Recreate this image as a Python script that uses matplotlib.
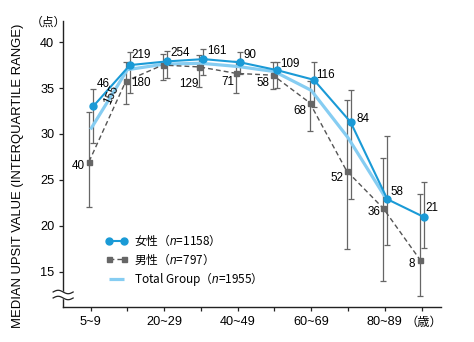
import numpy as np
import matplotlib
matplotlib.use("Agg")
import matplotlib.pyplot as plt

plt.rcParams['font.family'] = ['Liberation Sans', 'Noto Sans CJK JP', 'DejaVu Sans']
plt.rcParams['mathtext.fontset'] = 'custom'
plt.rcParams['mathtext.it'] = 'Liberation Sans:italic'
plt.rcParams['mathtext.rm'] = 'Liberation Sans'

# ---- data ----
categories = ['5~9', '10~19', '20~29', '30~39', '40~49', '50~59', '60~69', '70~79', '80~89', '90~']
tick_labels = ['5~9', '', '20~29', '', '40~49', '', '60~69', '', '80~89', '']

female_median = [33.0, 37.5, 37.9, 38.15, 37.8, 36.95, 35.9, 31.3, 22.9, 20.95]
female_q1 = [29.05, 34.5, 36.1, 36.4, 36.5, 35.0, 32.9, 22.9, 17.9, 17.55]
female_q3 = [34.85, 38.9, 39.0, 39.2, 38.9, 37.8, 37.8, 34.8, 29.8, 24.8]
female_n = [46, 219, 254, 161, 90, 109, 116, 84, 58, 21]

male_median = [27.0, 35.75, 37.5, 37.3, 36.6, 36.4, 33.4, 26.0, 21.9, 16.3]
male_q1 = [22.1, 33.3, 35.9, 35.1, 34.5, 34.9, 30.3, 17.5, 14.0, 12.4]
male_q3 = [32.4, 37.8, 38.7, 38.6, 37.9, 37.8, 35.8, 33.7, 27.4, 23.45]
male_n = [40, 155, 180, 129, 71, 58, 68, 52, 36, 8]

total_median = [30.5, 37.0, 37.6, 37.7, 37.35, 36.8, 34.75, 29.6, 23.2]

# ---- style ----
C_F = '#1a9ad6'
C_T = '#86cdf2'
C_M = '#555555'
C_E = '#666666'
FS_TICK = 9.2
FS_N = 8.4

fig = plt.figure(figsize=(4.74, 3.42), dpi=100)
ax = fig.add_axes([0.1336, 0.1032, 0.7961, 0.8354])

x = np.arange(len(categories))
xf = x + 0.07
xm = x - 0.04
xt = x[:len(total_median)]

fm = np.array(female_median); mm = np.array(male_median)
ax.errorbar(xf, fm, yerr=[fm - np.array(female_q1), np.array(female_q3) - fm],
            fmt='none', ecolor=C_E, elinewidth=0.9, capsize=2.2, capthick=0.9, zorder=2)
ax.errorbar(xm, mm, yerr=[mm - np.array(male_q1), np.array(male_q3) - mm],
            fmt='none', ecolor=C_E, elinewidth=0.9, capsize=2.2, capthick=0.9, zorder=2)

lt, = ax.plot(xt, total_median, color=C_T, lw=2.3, zorder=3, solid_capstyle='butt')
lm, = ax.plot(xm, mm, color=C_M, lw=1.0, ls=(0, (3.5, 2.2)), marker='s', ms=3.6,
              mfc='#666666', mec='#666666', zorder=4)
lf, = ax.plot(xf, fm, color=C_F, lw=1.5, marker='o', ms=5, mfc=C_F, mec=C_F, zorder=5)

# n labels (offsets in pixels)
f_off = [(10, 22), (11, 10), (13, 8), (13, 8), (10, 7), (13, 6), (12, 5), (12, 3), (10, 7), (8, 9)]
m_off = [(-11, -4), (-14, -14), (-22, -18), (-11, -17), (-8, -9), (-10, -8), (-10, -8), (-10, -7), (-9, -4), (-8, -4)]
for i in range(len(categories)):
    ax.annotate(str(female_n[i]), (xf[i], fm[i]), xytext=f_off[i], textcoords='offset pixels',
                ha='center', va='center', fontsize=FS_N, zorder=6)
    rot = 65 if i == 1 else 0
    ax.annotate(str(male_n[i]), (xm[i], mm[i]), xytext=m_off[i], textcoords='offset pixels',
                ha='center', va='center', fontsize=FS_N, rotation=rot, zorder=6)

ax.set_xlim(-0.74, 9.52)
ax.set_ylim(11.2, 42.3)
ax.set_xticks(x)
ax.set_xticklabels(tick_labels, fontsize=FS_TICK)
ax.set_yticks([15, 20, 25, 30, 35, 40])
ax.tick_params(axis='both', direction='out', length=3, width=0.9, labelsize=FS_TICK, color='#222222')
ax.tick_params(axis='x', pad=4)
for s in ['top', 'right']:
    ax.spines[s].set_visible(False)
for s in ['left', 'bottom']:
    ax.spines[s].set_linewidth(1.0)
    ax.spines[s].set_color('#222222')

# axis break marks
tw = np.linspace(-0.027, 0.026, 60)
wave = 0.006 * np.sin((tw + 0.027) / 0.053 * 2 * np.pi)
yc = 0.041
ax.fill_between(tw, yc - 0.0105 + wave, yc + 0.0105 + wave, color='white',
                transform=ax.transAxes, clip_on=False, zorder=7)
ax.plot(tw, yc - 0.0105 + wave, color='#222222', lw=0.9, transform=ax.transAxes, clip_on=False, zorder=8)
ax.plot(tw, yc + 0.0105 + wave, color='#222222', lw=0.9, transform=ax.transAxes, clip_on=False, zorder=8)

# unit texts
fig.text(48 / 474, 1 - 22.7 / 342, '（点）', ha='center', va='center', fontsize=8.5)
fig.text(405 / 474, 1 - 323.3 / 342, '（歳）', ha='left', va='center', fontsize=8.8)
fig.text(18 / 474, 1 - 176 / 342, 'MEDIAN UPSIT VALUE (INTERQUARTILE RANGE)', rotation=90,
         ha='center', va='center', fontsize=9.4)

leg = ax.legend([lf, lm, lt],
                ['女性（$n$=1158）', '男性（$n$=797）', 'Total Group（$n$=1955）'],
                loc='center left', bbox_to_anchor=(0.112, 0.162), frameon=False,
                numpoints=2, handlelength=1.86, handletextpad=0.55,
                labelspacing=0.3, borderpad=0, borderaxespad=0,
                prop={'family': ['Noto Sans CJK JP'], 'size': 8.5})

fig.savefig('out.png', dpi=100)
